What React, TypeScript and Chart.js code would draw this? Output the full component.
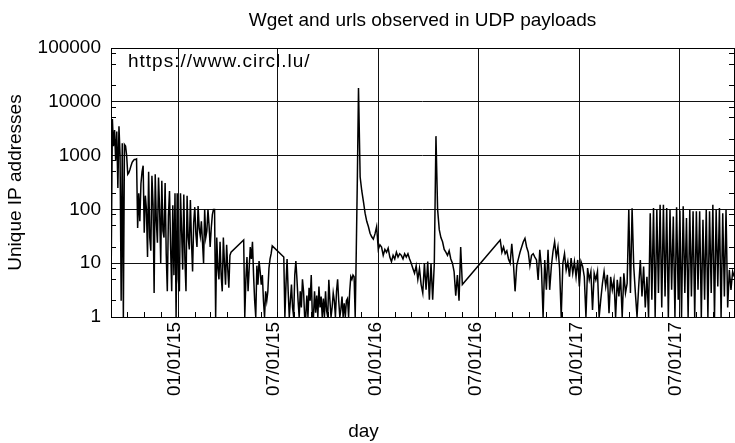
import React, { useEffect, useRef } from 'react';
import { Chart, registerables } from 'chart.js';

Chart.register(...registerables);

const TITLE = 'Wget and urls observed in UDP payloads';
const Y_TITLE = 'Unique IP addresses';
const X_TITLE = 'day';
const SOURCE_NOTE = 'https://www.circl.lu/';

// Days are counted from 01/01/15. Each block is sampled at a fixed day step.
// Block A: 2014-09-01 .. 2015-04-07, every 2 days
const startA = -122;
const stepA = 2;
const countsA = [
  12, 4800, 1500, 3000, 800, 2800, 250, 3500, 1000, 2,
  1700, 1, 1600, 1500, 1000, 450, 480, 550, 650, 750,
  800, 850, 850, 870, 45, 200, 60, 300, 500, 650,
  37, 180, 100, 13, 500, 30, 17, 420, 125, 2.8,
  450, 60, 24, 390, 100, 10, 340, 40, 30, 310,
  15, 3, 75, 220, 20, 3, 120, 6, 200, 1,
  200, 5, 3, 200, 40, 7.6, 190, 12, 3, 180,
  30, 18, 150, 25, 7, 56, 110, 35, 20, 115,
  45, 32, 60, 25, 10, 100, 30, 40, 100, 50,
  20, 45, 80, 100, 100, 1, 30, 8, 5, 25,
  6, 3, 30, 10, 4, 22, 8, 3.5, 14, 16,
];
// Block B: 2015-04-30 .. 2015-06-21, every 2 days
const startB = 119;
const stepB = 2;
const countsB = [
  27, 1, 5, 13, 3, 8, 20, 12, 25, 6,
  2, 1, 9, 4, 11, 7, 4, 6, 2, 1,
  3, 2, 3, 8, 12, 15, 21,
];
// Block C: 2015-07-12 .. 2015-11-23, every 2 days
const startC = 192;
const stepC = 2;
const countsC = [
  13, 1, 4, 12, 3, 1, 2, 4, 1.5, 1,
  6, 11, 5, 2, 1, 3, 1.5, 5, 3, 1,
  1, 2.5, 1, 3.5, 2, 6, 1, 1, 3, 1.2,
  2.5, 1, 3.7, 1.5, 2.4, 1, 2.2, 1, 3, 1.3,
  1, 4.9, 2, 1, 1.5, 2.8, 2, 1, 3, 5,
  2, 1, 1.4, 2.4, 1, 1.8, 1, 2, 2.2, 1,
  3, 5.6, 5, 6, 5.6, 1, 18, 425,
];
// Block D: 2015-11-25 .. 2016-06-01, every 3 days
const startD = 328;
const stepD = 3;
const countsD = [
  18000, 400, 220, 140, 85, 60, 48, 36, 31, 28,
  35, 48, 18, 22, 20, 14, 18, 16, 19, 13,
  10.7, 14, 12, 16, 13, 15, 14, 12, 15, 13,
  15, 12, 10, 8, 6.5, 9, 5, 8, 4, 2.8,
  10, 3.2, 10.7, 2.1, 10, 2.1, 10, 2300, 100, 42,
  30, 25, 18, 16, 14, 17, 12, 10, 7, 2.5,
  6, 2, 20, 4,
];
// Block E: 2016-08-09 .. 2017-10-07, every 3 days
const startE = 586;
const stepE = 3;
const countsE = [
  27, 16, 20, 15, 17, 12, 10, 23, 10, 3,
  9, 12, 16, 20, 25, 29, 20, 16, 9, 14,
  15, 13, 11.5, 4.9, 17.7, 8, 1, 11.5, 3.2, 17.7,
  3.2, 8.7, 16.5, 25, 13, 20, 8, 1, 10, 15,
  7.5, 10.7, 5.6, 12.4, 6.5, 10.7, 5.6, 11.5, 3.7, 10.7,
  8.7, 5.6, 1, 8.1, 4.9, 7, 1.35, 6.5, 4.9, 7,
  1, 2.1, 4.2, 7, 3.7, 6.1, 1.17, 5.6, 3.2, 4.9,
  1, 4.9, 2.4, 5.6, 1, 6.5, 2.8, 4.2, 100, 2.8,
  105, 8.7, 2.8, 1, 3.7, 11.5, 2.4, 8.7, 1.5, 5.6,
  1, 85, 2.1, 106, 1, 98, 2.8, 122, 1.5, 122,
  2.4, 106, 1, 98, 3.2, 74, 1, 110, 2.1, 95,
  1, 114, 2.8, 69, 1, 98, 2.4, 92, 1, 92,
  3.2, 92, 1, 64, 2.1, 98, 1, 92, 2.8, 122,
  1, 98, 3.7, 106, 1, 85, 2.4, 98, 1.5, 7.5,
  3.2, 7, 5.6,
];

const tickDays = [0, 181, 365, 547, 731, 912];
const tickLabels = ['01/01/15', '07/01/15', '01/01/16', '07/01/16', '01/01/17', '07/01/17'];
const yTickValues = [1, 10, 100, 1000, 10000, 100000];
const yMinorFactors = [2, 5, 8];
const X_MIN = -122.5;
const X_MAX = 1011.5;

const FONT = "'Liberation Sans', Arial, sans-serif";
const FONT_SIZE = 19;

const al = (p: number) => Math.round(p - 0.5) + 0.5;

const decorations = {
  id: 'decorations',
  afterDatasetsDraw(chart: any) {
    const { ctx, chartArea } = chart;
    const { left, right, top, bottom } = chartArea;
    const xs = chart.scales.x;
    const ys = chart.scales.y;
    ctx.save();
    ctx.strokeStyle = '#000';
    ctx.lineWidth = 1;
    ctx.beginPath();
    for (let yr = 2014; yr <= 2017; yr++) {
      for (let m = 0; m < 12; m++) {
        const d = (Date.UTC(yr, m, 1) - Date.UTC(2015, 0, 1)) / 86400000;
        if (d <= X_MIN || d >= X_MAX) continue;
        const px = al(xs.getPixelForValue(d));
        ctx.moveTo(px, bottom);
        ctx.lineTo(px, bottom - 5);
      }
    }
    for (let dec = 1; dec < 100000; dec *= 10) {
      for (const f of yMinorFactors) {
        const py = al(ys.getPixelForValue(dec * f));
        ctx.moveTo(left, py);
        ctx.lineTo(left + 5, py);
        ctx.moveTo(right, py);
        ctx.lineTo(right - 5, py);
      }
    }
    ctx.stroke();
    const l = al(left), r = al(right), t = al(top), b = al(bottom);
    ctx.strokeRect(l, t, r - l, b - t);

    ctx.fillStyle = '#000';
    ctx.font = `${FONT_SIZE}px ${FONT}`;
    ctx.textBaseline = 'alphabetic';
    ctx.textAlign = 'center';
    ctx.fillText(TITLE, (left + right) / 2, 26);
    ctx.fillText(X_TITLE, chart.width / 2 - 4, 437);
    ctx.textAlign = 'left';
    try {
      (ctx as any).letterSpacing = '1px';
    } catch (e) {
      /* ignore */
    }
    ctx.fillText(SOURCE_NOTE, left + 17, 67);
    ctx.restore();
  },
};

function toPoints(start: number, step: number, values: number[]) {
  return values.map((v, i) => ({ x: start + i * step, y: v }));
}

export default function App() {
  const ref = useRef<HTMLCanvasElement>(null);

  useEffect(() => {
    const canvas = ref.current;
    if (!canvas) return;
    Chart.defaults.font.family = FONT;
    Chart.defaults.font.size = FONT_SIZE;
    Chart.defaults.color = '#000';

    const points = [
      ...toPoints(startA, stepA, countsA),
      ...toPoints(startB, stepB, countsB),
      ...toPoints(startC, stepC, countsC),
      ...toPoints(startD, stepD, countsD),
      ...toPoints(startE, stepE, countsE),
    ];

    const chart = new Chart(canvas, {
      type: 'line',
      data: {
        datasets: [
          {
            data: points as any,
            borderColor: '#000',
            borderWidth: 1.5,
            pointRadius: 0,
            tension: 0,
            spanGaps: true,
            fill: false,
          },
        ],
      },
      options: {
        responsive: false,
        animation: false,
        devicePixelRatio: 1,
        events: [],
        layout: { padding: { top: 48, right: 1, left: 0, bottom: 0 } },
        plugins: {
          legend: { display: false },
          title: { display: false },
          tooltip: { enabled: false },
        },
        scales: {
          x: {
            type: 'linear',
            min: X_MIN,
            max: X_MAX,
            afterBuildTicks: (axis: any) => {
              axis.ticks = tickDays.map((v) => ({ value: v }));
            },
            afterFit: (axis: any) => {
              axis.height = 126;
            },
            grid: { color: '#111', lineWidth: 1, drawTicks: false },
            border: { display: false },
            ticks: {
              autoSkip: false,
              maxRotation: 90,
              minRotation: 90,
              padding: 5,
              labelOffset: -3.5,
              color: '#000',
              font: { size: FONT_SIZE, family: FONT },
              callback: (v: any) => {
                const k = tickDays.indexOf(Number(v));
                return k >= 0 ? tickLabels[k] : '';
              },
            },
          },
          y: {
            type: 'logarithmic',
            min: 1,
            max: 100000,
            afterBuildTicks: (axis: any) => {
              axis.ticks = yTickValues.map((v) => ({ value: v }));
            },
            afterFit: (axis: any) => {
              axis.width = 111;
            },
            grid: { color: '#111', lineWidth: 1, drawTicks: false },
            border: { display: false },
            title: {
              display: true,
              text: Y_TITLE,
              color: '#000',
              font: { size: FONT_SIZE, family: FONT },
              padding: { top: 4, bottom: 0 },
            },
            ticks: {
              padding: 10,
              color: '#000',
              font: { size: FONT_SIZE, family: FONT },
              callback: (v: any) => String(v),
            },
          },
        },
      },
      plugins: [decorations],
    });
    return () => chart.destroy();
  }, []);

  return (
    <canvas
      ref={ref}
      width={735}
      height={443}
      style={{ position: 'absolute', left: 0, top: 0, width: 735, height: 443 }}
    />
  );
}
